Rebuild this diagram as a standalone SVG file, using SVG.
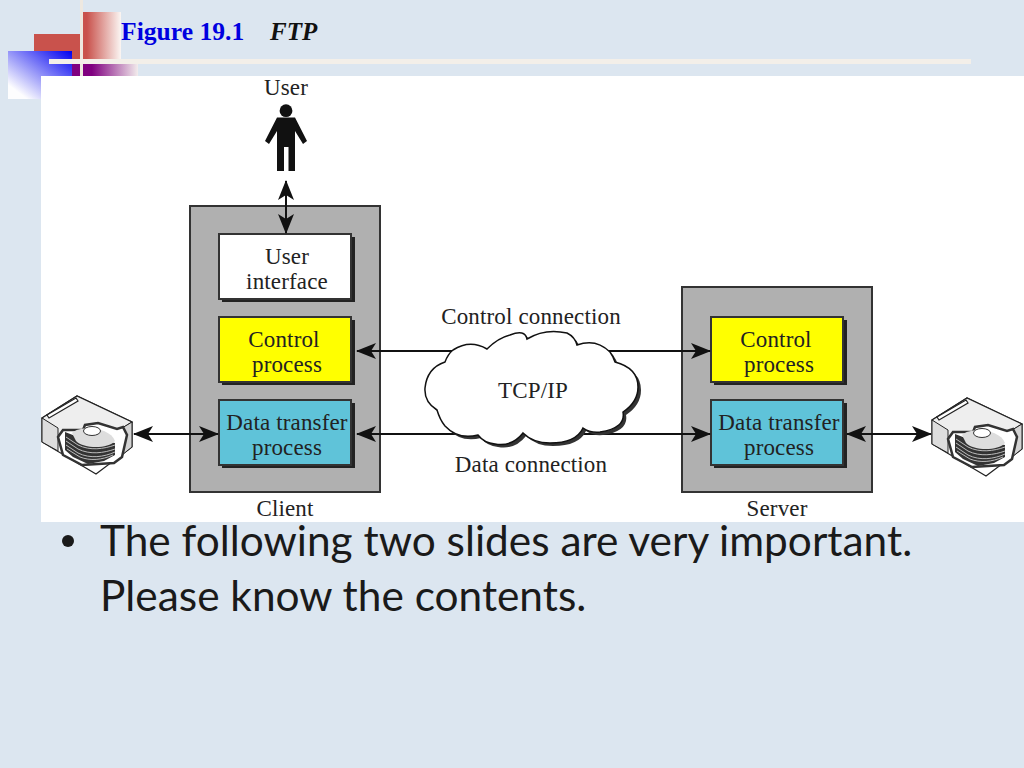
<svg xmlns="http://www.w3.org/2000/svg" width="1024" height="768" viewBox="0 0 1024 768">
<style>
.t{font-family:"Liberation Serif","Times New Roman",serif;font-size:23px;letter-spacing:.15px;fill:#222;text-anchor:middle}
.b{font-family:Lato,"Open Sans",sans-serif;font-size:42.4px;fill:#1a1a1a}
.box{stroke:#333;stroke-width:2}
.sh{fill:#222}
.ln{fill:none;stroke:#111;stroke-width:2}
</style>
<defs>
<linearGradient id="gr" x1="0" x2="1" y1="0" y2="0"><stop offset="0.1" stop-color="#c9524c"/><stop offset="1" stop-color="#fbf6f3"/></linearGradient>
<linearGradient id="gp" x1="0" x2="1" y1="0" y2="0"><stop offset="0.3" stop-color="#800080"/><stop offset="1" stop-color="#f2ecec"/></linearGradient>
<linearGradient id="gb" x1="1" x2="0" y1="0" y2="1"><stop offset="0" stop-color="#0000f0"/><stop offset="0.85" stop-color="#fdfdfe"/></linearGradient>
<marker id="ah" viewBox="0 0 20 16" refX="19" refY="8" markerWidth="20" markerHeight="16" markerUnits="userSpaceOnUse" orient="auto-start-reverse"><path d="M0 0L20 8L0 16L5 8Z" fill="#111"/></marker>
<g id="disk">
<path d="M0 23L35 1L90 27V52L54 79L0 47Z" fill="#fff" stroke="#222" stroke-width="1.2"/>
<path d="M0 23L35 1L90 27L78 35L56 28L43 30L41 35L21 35L16 41Z" fill="#eee" stroke="#222" stroke-width="1.2"/>
<path d="M0 23L16 33V56L0 47Z" fill="#ddd" stroke="#222" stroke-width="1"/>
<path d="M90 27L80 33V60L90 52Z" fill="#d4d4d4" stroke="#222" stroke-width="1"/>
<path d="M5 20L34 3L36 6L7 23Z" fill="#fff" stroke="#222" stroke-width="1.2"/>
<path d="M16 42L21 35L41 35L43 30L56 28L75 34L81 32L85 40L80 62L72 68L40 70L21 60Z" fill="#fff" stroke="#333" stroke-width="2.5"/>
<path d="M23 37L36 42L73 48V60L62 66L46 69L31 62L23 55Z" fill="#333"/>
<path d="M24 42L36 50C48 56 62 54 73 50M24 46L36 54C48 60 62 58 73 54M24 50L36 58C48 64 62 62 73 57M25 54L38 62C48 66 60 65 71 60" fill="none" stroke="#bbb" stroke-width="1"/>
<path d="M30 38C38 30 68 32 73 46C66 54 42 54 34 46Z" fill="#ddd"/>
<ellipse cx="50" cy="36" rx="8.5" ry="4.5" fill="#fff" stroke="#333"/>
</g>
</defs>
<rect id="background" width="1024" height="768" fill="#dce6f0"/>
<g id="decor">
<rect x="34" y="34" width="46" height="42" fill="#c9524c"/>
<rect x="83" y="12" width="38" height="50" fill="url(#gr)"/>
<rect x="72" y="64" width="66" height="12" fill="url(#gp)"/>
<rect x="8" y="51" width="64" height="48" fill="url(#gb)"/>
<rect x="80" y="0" width="3" height="76" fill="#eee8e0"/>
<rect x="49" y="59" width="922" height="5" fill="#f3efe9"/>
</g>
<text id="title" x="121" y="40" font-family="'Liberation Serif',serif" font-size="25.6" font-weight="700" fill="#0000e0">Figure 19.1</text>
<text id="title2" x="270" y="40" font-family="'Liberation Serif',serif" font-size="25" font-weight="700" font-style="italic" fill="#111">FTP</text>
<rect id="panel" x="41" y="76" width="983" height="446" fill="#fff"/>
<g id="client"><rect x="190" y="206" width="190" height="286" fill="#b0b0b0" stroke="#333" stroke-width="2"/><text class="t" x="285" y="516">Client</text></g>
<g id="server"><rect x="682" y="287" width="190" height="205" fill="#b0b0b0" stroke="#333" stroke-width="2"/><text class="t" x="777" y="516">Server</text></g>
<g id="user">
<text class="t" x="286" y="95">User</text>
<circle cx="286" cy="110.7" r="6.4" fill="#111"/>
<path d="M277 117.5H295L307 141L303 144L295 131V171H288.5V147H284V171H277V131L269 144L265 141Z" fill="#111"/>
</g>
<g id="user-interface"><rect class="sh" x="222" y="237" width="133" height="65"/><rect class="box" x="219" y="234" width="132" height="65" fill="#fff"/><text class="t" x="287" y="263.5">User</text><text class="t" x="287" y="288.5">interface</text></g>
<g id="client-control"><rect class="sh" x="222" y="320" width="133" height="65"/><rect class="box" x="219" y="317" width="132" height="65" fill="#ffff00"/><text class="t" x="284" y="346.5">Control</text><text class="t" x="287" y="371.5">process</text></g>
<g id="client-data"><rect class="sh" x="222" y="403" width="133" height="65"/><rect class="box" x="219" y="400" width="132" height="65" fill="#5fc3d9"/><text class="t" x="287" y="429.5">Data transfer</text><text class="t" x="287" y="454.5">process</text></g>
<g id="server-control"><rect class="sh" x="714" y="320" width="133" height="65"/><rect class="box" x="711" y="317" width="132" height="65" fill="#ffff00"/><text class="t" x="776" y="346.5">Control</text><text class="t" x="779" y="371.5">process</text></g>
<g id="server-data"><rect class="sh" x="714" y="403" width="133" height="65"/><rect class="box" x="711" y="400" width="132" height="65" fill="#5fc3d9"/><text class="t" x="779" y="429.5">Data transfer</text><text class="t" x="779" y="454.5">process</text></g>
<g id="connectors">
<path class="ln" d="M286 181V233" marker-start="url(#ah)" marker-end="url(#ah)"/>
<path class="ln" d="M357 351H710" marker-start="url(#ah)" marker-end="url(#ah)"/>
<path class="ln" d="M357 434H710" marker-start="url(#ah)" marker-end="url(#ah)"/>
<path class="ln" d="M134 434H218" marker-start="url(#ah)" marker-end="url(#ah)"/>
<path class="ln" d="M847 434H931" marker-start="url(#ah)" marker-end="url(#ah)"/>
</g>
<g id="cloud">
<path id="cloud-shadow" transform="translate(3 3)" fill="#333" d="M453 350Q470 339 487 349Q498 338 510 335Q525 329 527 339Q545 328 567 333Q575 337 577 345Q596 338 610 352Q613 356 615 362Q638 368 638 387Q638 402 623 412Q626 428 600 432Q590 433 583 428Q576 443 550 443Q533 443 523 433Q512 447 495 444Q484 443 478 435Q458 440 445 426Q440 420 437 410Q424 402 425 388Q427 368 445 362Q448 354 453 350Z"/>
<path id="cloud-body" fill="#fff" stroke="#111" stroke-width="1.5" d="M453 350Q470 339 487 349Q498 338 510 335Q525 329 527 339Q545 328 567 333Q575 337 577 345Q596 338 610 352Q613 356 615 362Q638 368 638 387Q638 402 623 412Q626 428 600 432Q590 433 583 428Q576 443 550 443Q533 443 523 433Q512 447 495 444Q484 443 478 435Q458 440 445 426Q440 420 437 410Q424 402 425 388Q427 368 445 362Q448 354 453 350Z"/>
<text class="t" x="533" y="397.5">TCP/IP</text>
</g>
<g id="labels"><text class="t" x="531" y="323.5">Control connection</text><text class="t" x="531" y="471.5">Data connection</text></g>
<use id="disk-left" href="#disk" x="42" y="395"/>
<use id="disk-right" href="#disk" x="932" y="397"/>
<g id="bullets">
<circle cx="68" cy="541" r="6" fill="#1a1a1a"/>
<text class="b" x="100" y="556">The following two slides are very important.</text>
<text class="b" x="100" y="611">Please know the contents.</text>
</g>
</svg>
